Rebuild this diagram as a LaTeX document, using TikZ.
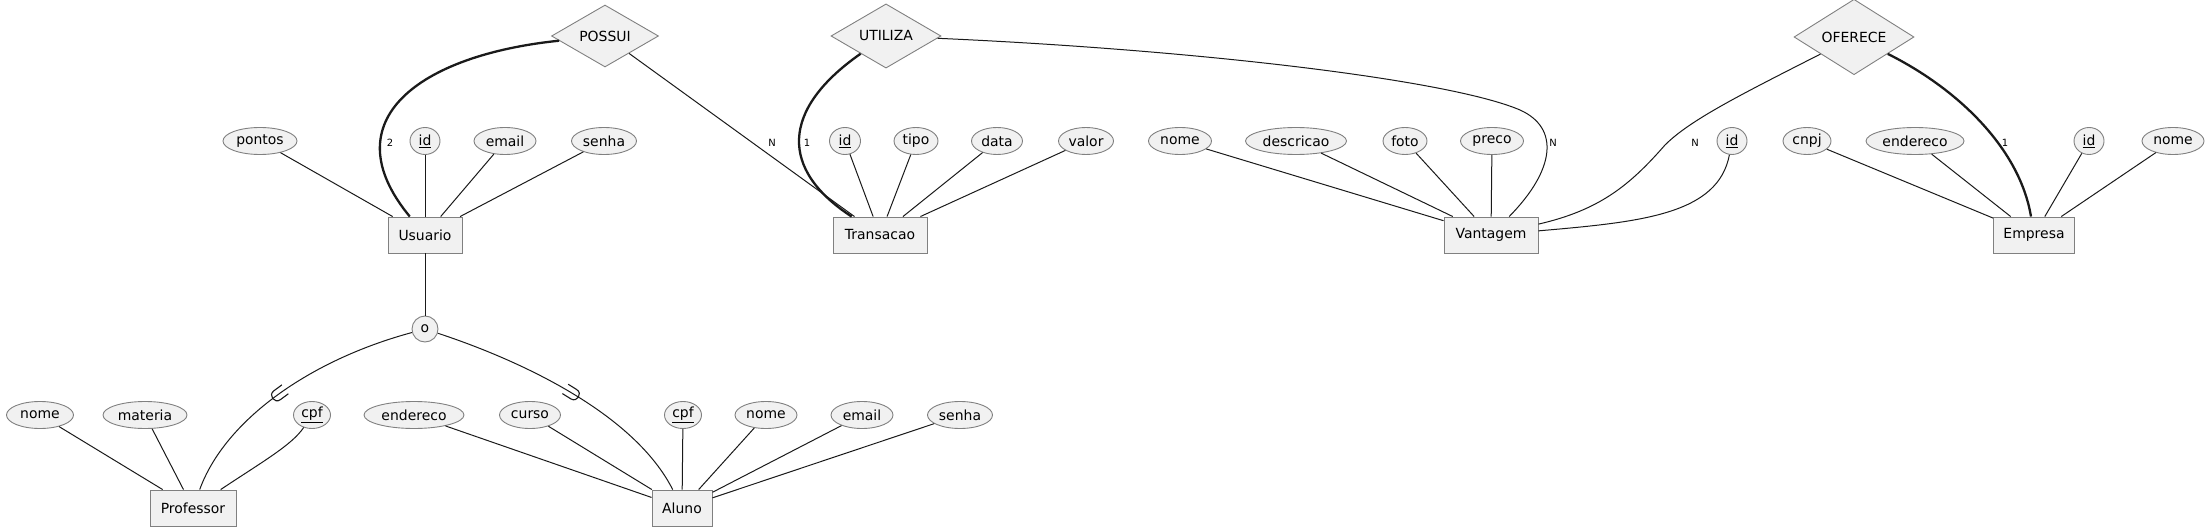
\documentclass[tikz,border=0pt]{standalone}
\usepackage{fontspec}
\setmainfont{DejaVu Sans}
\usetikzlibrary{shapes.geometric}
\definecolor{fillc}{HTML}{F1F1F1}
\definecolor{bordc}{HTML}{808080}
\definecolor{linec}{HTML}{1A1A1A}
\begin{document}
\begin{tikzpicture}[x=1bp,y=-1bp,
  every node/.style={font=\fontsize{14}{16}\selectfont, text=black},
  entity/.style={draw=bordc, fill=fillc, line width=0.9bp, rectangle, minimum height=36bp, inner sep=0pt},
  attr/.style={draw=bordc, fill=fillc, line width=0.9bp, ellipse, minimum height=27bp, inner sep=0pt},
  rel/.style={draw=bordc, fill=fillc, line width=0.9bp, diamond, inner sep=0pt},
  circ/.style={draw=bordc, fill=fillc, line width=0.9bp, circle, minimum size=26bp, inner sep=0pt},
  conn/.style={draw=linec, line width=1bp},
  strongconn/.style={draw=linec, line width=2.3bp},
  card/.style={font=\fontsize{10}{12}\selectfont, inner sep=0pt},
  subsetsym/.style={draw=linec, line width=1.1bp}
]
\useasboundingbox (0,0) rectangle (2209,531);

% relationships
\node[rel, minimum width=107bp, minimum height=54bp] (possui) at (605,36) {POSSUI};
\node[rel, minimum width=110bp, minimum height=55bp] (utiliza) at (886,36) {UTILIZA};
\node[rel, minimum width=120bp, minimum height=59bp] (oferece) at (1854,37) {OFERECE};

% entities
\node[entity, minimum width=74bp] (usuario) at (425,235) {Usuario};
\node[entity, minimum width=94bp] (transacao) at (880,235) {Transacao};
\node[entity, minimum width=94bp] (vantagem) at (1491,235) {Vantagem};
\node[entity, minimum width=81bp] (empresa) at (2034,235) {Empresa};
\node[entity, minimum width=86bp] (professor) at (193,508) {Professor};
\node[entity, minimum width=60bp] (aluno) at (682,508) {Aluno};

% specialization circle
\node[circ] (o) at (425,329) {o};

% Usuario attributes
\node[attr, minimum width=74bp] (upontos) at (260,141) {pontos};
\node[attr, minimum width=30bp] (uid) at (425,141) {\underline{id}};
\node[attr, minimum width=62bp] (uemail) at (505,141) {email};
\node[attr, minimum width=65bp] (usenha) at (604,141) {senha};

% Transacao attributes
\node[attr, minimum width=31bp] (tid) at (845,141) {\underline{id}};
\node[attr, minimum width=44bp] (ttipo) at (916,141) {tipo};
\node[attr, minimum width=51bp] (tdata) at (997,141) {data};
\node[attr, minimum width=55bp] (tvalor) at (1086,141) {valor};

% Vantagem attributes
\node[attr, minimum width=63bp] (vnome) at (1180,141) {nome};
\node[attr, minimum width=101bp] (vdesc) at (1296,141) {descricao};
\node[attr, minimum width=44bp] (vfoto) at (1405,141) {foto};
\node[attr, minimum width=63bp] (vpreco) at (1492,141) {preco};
\node[attr, minimum width=30bp] (vid) at (1732,141) {\underline{id}};

% Empresa attributes
\node[attr, minimum width=48bp] (ecnpj) at (1807,141) {cnpj};
\node[attr, minimum width=98bp] (eend) at (1915,141) {endereco};
\node[attr, minimum width=30bp] (eid) at (2089,141) {\underline{id}};
\node[attr, minimum width=62bp] (enome) at (2173,141) {nome};

% Professor attributes
\node[attr, minimum width=67bp] (pnome) at (40,415) {nome};
\node[attr, minimum width=84bp] (pmateria) at (145,415) {materia};
\node[attr, minimum width=37bp] (pcpf) at (312,415) {\underline{cpf}};

% Aluno attributes
\node[attr, minimum width=100bp] (aend) at (414,415) {endereco};
\node[attr, minimum width=61bp] (acurso) at (530,415) {curso};
\node[attr, minimum width=37bp] (acpf) at (683,415) {\underline{cpf}};
\node[attr, minimum width=62bp] (anome) at (766,415) {nome};
\node[attr, minimum width=62bp] (aemail) at (862,415) {email};
\node[attr, minimum width=65bp] (asenha) at (960,415) {senha};

% attribute connectors
\foreach \a/\e in {upontos/usuario, uid/usuario, uemail/usuario, usenha/usuario,
  tid/transacao, ttipo/transacao, tdata/transacao, tvalor/transacao,
  vnome/vantagem, vdesc/vantagem, vfoto/vantagem, vpreco/vantagem,
  ecnpj/empresa, eend/empresa, eid/empresa, enome/empresa,
  pnome/professor, pmateria/professor,
  aend/aluno, acurso/aluno, acpf/aluno, anome/aluno, aemail/aluno, asenha/aluno}
  \draw[conn] (\a) -- (\e);
\draw[conn] (pcpf) .. controls (292,445) and (262,462) .. (professor);
\draw[conn] (vid) .. controls (1718,215) and (1640,222) .. (vantagem);

% relationship connectors
\draw[strongconn] (possui) .. controls (420,55) and (330,120) .. (usuario);
\draw[conn] (possui) -- (transacao);
\draw[strongconn] (utiliza) .. controls (780,110) and (780,170) .. (transacao);
\coordinate (ubend) at (1520,110);
\draw[conn] (utiliza) .. controls (1200,50) and (1450,80) .. (ubend)
  .. controls (1560,128) and (1555,170) .. (vantagem);
\coordinate (obend) at (1665,145);
\draw[conn] (oferece) .. controls (1740,95) and (1690,120) .. (obend)
  .. controls (1630,185) and (1600,210) .. (vantagem);
\draw[strongconn] (oferece) .. controls (1960,90) and (2020,150) .. (empresa);

% cardinalities
\node[card] (c1) at (390,143) {2};
\node[card] (c2) at (772,143) {N};
\node[card] (c3) at (807,143) {1};
\node[card] (c4) at (1553,143) {N};
\node[card] (c5) at (1695,143) {N};
\node[card] (c6) at (2005,143) {1};

% specialization
\draw[conn] (usuario) -- (o);
\draw[conn] (o) .. controls (310,360) and (225,420) .. (professor) coordinate[pos=0.5] (sp);
\draw[conn] (o) .. controls (525,362) and (635,415) .. (aluno) coordinate[pos=0.5] (sa);
\draw[subsetsym, shift={(sp)}] (11.307,-1.518) -- (3.267,4.422)
  .. controls (-2.629,8.778) and (-9.163,-0.066) .. (-3.267,-4.422) -- (4.773,-10.362);
\draw[subsetsym, shift={(sa)}] (-5.586,-9.95) -- (2.904,-4.670)
  .. controls (9.13,-0.798) and (3.322,8.542) .. (-2.904,4.670) -- (-11.394,-0.61);
\end{tikzpicture}
\end{document}
